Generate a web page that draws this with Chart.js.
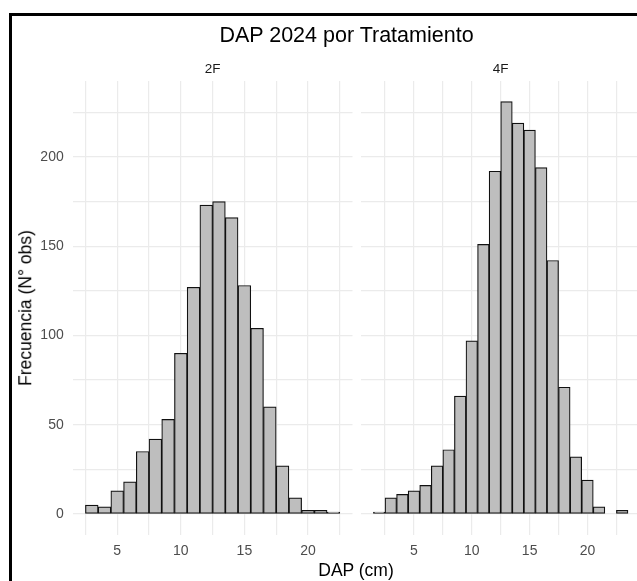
<!DOCTYPE html>
<html>
<head>
<meta charset="utf-8">
<script src="https://cdn.jsdelivr.net/npm/chart.js@4/dist/chart.umd.min.js"></script>
<style>
  html, body { margin: 0; padding: 0; background: #ffffff; overflow: hidden; }
  body { width: 637px; height: 581px; position: relative; font-family: "Liberation Sans", Arial, sans-serif; }
  .frame { position: absolute; left: 9px; top: 13px; width: 700px; height: 700px;
           border-left: 3px solid #000; border-top: 3px solid #000; box-sizing: border-box; }
  canvas { position: absolute; top: 0; }
  .txt { position: absolute; white-space: nowrap; transform: translate(-50%, -50%); line-height: 1; }
  .title { font-size: 21.5px; color: #000; }
  .strip { font-size: 13.5px; color: #1a1a1a; }
  .axis-title { font-size: 17.5px; color: #000; }
  .ylab { transform: translate(-50%, -50%) rotate(-90deg); }
</style>
</head>
<body>
<div class="frame"></div>
<canvas id="panel2F" width="356" height="581" style="left:0px;width:356px;height:581px"></canvas>
<canvas id="panel4F" width="290" height="581" style="left:356px;width:290px;height:581px"></canvas>
<div class="txt title" style="left:346.5px;top:36px">DAP 2024 por Tratamiento</div>
<div class="txt strip" style="left:212.6px;top:69px">2F</div>
<div class="txt strip" style="left:500.7px;top:69px">4F</div>
<div class="txt axis-title" style="left:356px;top:571px">DAP (cm)</div>
<div class="txt axis-title ylab" style="left:25.5px;top:308px">Frecuencia (N° obs)</div>
<script>
// Histogram bins (width 1 cm, centred on whole centimetres) and counts per treatment
const bins2F   = [3, 4, 5, 6, 7, 8, 9, 10, 11, 12, 13, 14, 15, 16, 17, 18, 19, 20, 21, 22];
const counts2F = [5, 4, 13, 18, 35, 42, 53, 90, 127, 173, 175, 166, 128, 104, 60, 27, 9, 2, 2, 1];

const bins4F   = [2, 3, 4, 5, 6, 7, 8, 9, 10, 11, 12, 13, 14, 15, 16, 17, 18, 19, 20, 21, 22, 23];
const counts4F = [1, 9, 11, 13, 16, 27, 36, 66, 97, 151, 192, 231, 219, 215, 194, 142, 71, 32, 19, 4, 0, 2];

// Grid positions (major + minor) and which of them carry a label
const xGrid = [2.5, 5, 7.5, 10, 12.5, 15, 17.5, 20, 22.5];
const xLabelled = [5, 10, 15, 20];
const yGrid = [0, 25, 50, 75, 100, 125, 150, 175, 200, 225];
const yLabelled = [0, 50, 100, 150, 200];

const yRange = [-11.55, 242.55];

const FONT = '"Liberation Sans", Arial, sans-serif';
const GRID = '#EBEBEB';

function panel(canvasId, bins, counts, xRange, opts) {
  const ctx = document.getElementById(canvasId);
  return new Chart(ctx, {
    type: 'bar',
    data: {
      datasets: [{
        data: bins.map((b, i) => ({ x: b, y: counts[i] })),
        backgroundColor: '#BEBEBE',
        borderColor: '#111111',
        borderWidth: 1.2,
        borderSkipped: false,
        categoryPercentage: 1,
        barPercentage: 1
      }]
    },
    options: {
      responsive: false,
      devicePixelRatio: 1,
      animation: false,
      events: [],
      layout: { padding: opts.padding },
      plugins: { legend: { display: false }, tooltip: { enabled: false }, title: { display: false } },
      scales: {
        x: {
          type: 'linear',
          offset: false,
          min: xRange[0],
          max: xRange[1],
          afterBuildTicks: s => { s.ticks = xGrid.map(v => ({ value: v })); },
          afterFit: s => { s.height = opts.xHeight; },
          grid: { color: GRID, lineWidth: 1.2, drawTicks: false, offset: false },
          border: { display: false },
          ticks: {
            padding: 8,
            maxRotation: 0,
            autoSkip: false,
            color: '#4d4d4d',
            font: { family: FONT, size: 14 },
            callback: v => (xLabelled.includes(v) ? String(v) : '')
          }
        },
        y: {
          type: 'linear',
          min: yRange[0],
          max: yRange[1],
          afterBuildTicks: s => { s.ticks = yGrid.map(v => ({ value: v })); },
          afterFit: s => { s.width = opts.yWidth; },
          grid: { color: GRID, lineWidth: 1.2, drawTicks: false },
          border: { display: false },
          ticks: {
            display: opts.yLabels,
            padding: 9,
            autoSkip: false,
            color: '#4d4d4d',
            font: { family: FONT, size: 14 },
            callback: v => (yLabelled.includes(v) ? String(v) : '')
          }
        }
      }
    }
  });
}

panel('panel2F', bins2F, counts2F, [1.5, 23.5],
      { padding: { left: 0, top: 81, right: 3.5, bottom: 0 }, xHeight: 46.4, yWidth: 72.7, yLabels: true });
panel('panel4F', bins4F, counts4F, [0.4, 24.6],
      { padding: { left: 4.7, top: 81, right: 5.3, bottom: 0 }, xHeight: 46.4, yWidth: 0, yLabels: false });
</script>
</body>
</html>
